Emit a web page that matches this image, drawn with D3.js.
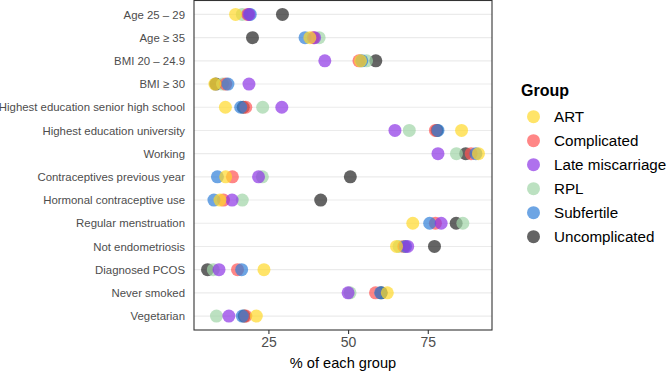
<!DOCTYPE html>
<html>
<head>
<meta charset="utf-8">
<script src="https://cdn.jsdelivr.net/npm/d3@7"></script>
<style>
  body { margin: 0; background: #fff; }
  #chart svg { display: block; font-family: "Liberation Sans", Arial, sans-serif; }
</style>
</head>
<body>
<div id="chart"></div>
<script>
//////////////////////////// data /////////////////////////////////////////

const categories = [
	"Age 25 \u2013 29",
	"Age \u2265 35",
	"BMI 20 \u2013 24.9",
	"BMI \u2265 30",
	"Highest education senior high school",
	"Highest education university",
	"Working",
	"Contraceptives previous year",
	"Hormonal contraceptive use",
	"Regular menstruation",
	"Not endometriosis",
	"Diagnosed PCOS",
	"Never smoked",
	"Vegetarian"
];

const groups = ["ART", "Complicated", "Late miscarriage", "RPL", "Subfertile", "Uncomplicated"];

// % of each group, same order as categories
const artValues = [14.7, 38.0, 53.9, 8.2, 11.5, 85.6, 90.9, 11.6, 9.8, 70.3, 65.2, 23.6, 62.3, 21.2];
const complicatedValues = [18.5, 39.1, 53.4, 11.6, 17.9, 77.4, 88.6, 13.7, 10.9, 77.4, 67.5, 15.3, 58.6, 17.9];
const lateMiscarriageValues = [18.9, 39.5, 42.7, 18.9, 29.2, 64.7, 78.2, 21.9, 13.6, 79.2, 68.7, 9.5, 50.0, 12.6];
const rplValues = [16.8, 40.9, 55.8, 10.6, 23.2, 69.2, 84.0, 23.1, 16.8, 86.0, 66.0, 7.7, 50.6, 8.7];
const subfertileValues = [19.3, 36.5, 54.3, 12.3, 16.3, 78.2, 90.1, 9.0, 7.9, 75.6, 68.0, 16.6, 60.2, 16.8];
const uncomplicatedValues = [29.4, 20.0, 58.7, 8.5, 17.1, 77.9, 86.9, 50.7, 41.4, 83.9, 77.1, 5.9, 60.4, 17.4];

const xTicks = [25, 50, 75];

const groupColors = ["#ffd829", "#ff5252", "#8d35e6", "#9fd4a6", "#2f7fd8", "#222222"];

// which group ends up on top where dots overlap (last drawn = top)
const drawOrder = ["Uncomplicated", "RPL", "Complicated", "Subfertile", "Late miscarriage", "ART"];

//////////////////////////// drawing function /////////////////////////////

const createChart = () => {
	const valuesByGroup = [
		artValues,
		complicatedValues,
		lateMiscarriageValues,
		rplValues,
		subfertileValues,
		uncomplicatedValues
	];

	// long format: one row per group x category
	let data = [];
	groups.forEach((g, gi) => {
		valuesByGroup[gi].forEach((v, ci) => {
			data.push({ group: g, category: categories[ci], val: v });
		});
	});
	data = data.sort((a, b) => drawOrder.indexOf(a.group) - drawOrder.indexOf(b.group));

	//////////////////////////// accessors ////////////////////////////////////

	const xAccessor = (d) => d.val;
	const yAccessor = (d) => d.category;
	const cAccessor = (d) => d.group;

	//////////////////////////// sizes ///////////////////////////////////////

	let dimensions = {
		width: 669,
		height: 372,
		margin: { top: 0.5, right: 177, bottom: 42, left: 194 }
	};
	dimensions.boundedWidth = dimensions.width - dimensions.margin.left - dimensions.margin.right;
	dimensions.boundedHeight = dimensions.height - dimensions.margin.top - dimensions.margin.bottom;

	const wrapper = d3
		.select("#chart")
		.append("svg")
		.attr("width", dimensions.width)
		.attr("height", dimensions.height);

	const bounds = wrapper
		.append("g")
		.attr("transform", `translate(${dimensions.margin.left},${dimensions.margin.top})`);

	//////////////////////////// scales ///////////////////////////////////////

	// ggplot style 5% expansion
	const ext = d3.extent(data, xAccessor);
	const pad = (ext[1] - ext[0]) * 0.05;

	const xScale = d3
		.scaleLinear()
		.domain([ext[0] - pad, ext[1] + pad])
		.range([0, dimensions.boundedWidth]);

	const yScale = d3
		.scalePoint()
		.domain(categories)
		.range([0, dimensions.boundedHeight])
		.padding(0.6);

	const cScale = d3.scaleOrdinal().domain(groups).range(groupColors);

	//////////////////////////// grid /////////////////////////////////////////

	bounds
		.append("g")
		.selectAll("line")
		.data(categories)
		.join("line")
		.attr("x1", 0)
		.attr("x2", dimensions.boundedWidth)
		.attr("y1", (d) => yScale(d))
		.attr("y2", (d) => yScale(d))
		.attr("stroke", "#ebebeb")
		.attr("stroke-width", 1.1);

	//////////////////////////// dots /////////////////////////////////////////

	bounds
		.append("g")
		.selectAll("circle")
		.data(data)
		.join("circle")
		.attr("cx", (d) => xScale(xAccessor(d)))
		.attr("cy", (d) => yScale(yAccessor(d)))
		.attr("r", 6.5)
		.attr("fill", (d) => cScale(cAccessor(d)))
		.attr("fill-opacity", 0.7);

	// panel border
	bounds
		.append("rect")
		.attr("width", dimensions.boundedWidth)
		.attr("height", dimensions.boundedHeight)
		.attr("fill", "none")
		.attr("stroke", "#333333")
		.attr("stroke-width", 1.1);

	//////////////////////////// axes /////////////////////////////////////////

	const xAxis = bounds
		.append("g")
		.attr("transform", `translate(0,${dimensions.boundedHeight})`)
		.call(d3.axisBottom(xScale).tickValues(xTicks).tickSize(4).tickPadding(3));
	xAxis.select(".domain").remove();
	xAxis.selectAll(".tick line").attr("stroke", "#333333").attr("stroke-width", 1.1);
	xAxis
		.selectAll(".tick text")
		.attr("fill", "#4d4d4d")
		.style("font-size", "14px")
		.style("font-family", "'Liberation Sans', Arial, sans-serif");

	bounds
		.append("text")
		.attr("x", dimensions.boundedWidth / 2)
		.attr("y", dimensions.boundedHeight + 38)
		.attr("text-anchor", "middle")
		.style("font-size", "14.6px")
		.attr("fill", "#000")
		.text("% of each group");

	const yAxis = bounds.append("g").call(d3.axisLeft(yScale).tickSize(0).tickPadding(9));
	yAxis.select(".domain").remove();
	yAxis
		.selectAll(".tick text")
		.attr("fill", "#4d4d4d")
		.style("font-size", "11.4px")
		.style("font-family", "'Liberation Sans', Arial, sans-serif");

	//////////////////////////// legend ///////////////////////////////////////

	const legend = wrapper.append("g").attr("transform", "translate(521,0)");

	legend
		.append("text")
		.attr("x", 0)
		.attr("y", 96)
		.style("font-size", "16px")
		.style("font-weight", "bold")
		.text("Group");

	const items = legend
		.selectAll(".item")
		.data(groups)
		.join("g")
		.attr("class", "item")
		.attr("transform", (d, i) => `translate(0,${116.7 + i * 24})`);

	items
		.append("circle")
		.attr("cx", 12.5)
		.attr("cy", 0)
		.attr("r", 6.5)
		.attr("fill", (d) => cScale(d))
		.attr("fill-opacity", 0.7);

	items
		.append("text")
		.attr("x", 33)
		.attr("y", 5.4)
		.style("font-size", "15.2px")
		.attr("fill", "#000")
		.text((d) => d);
};

createChart();
</script>
</body>
</html>
